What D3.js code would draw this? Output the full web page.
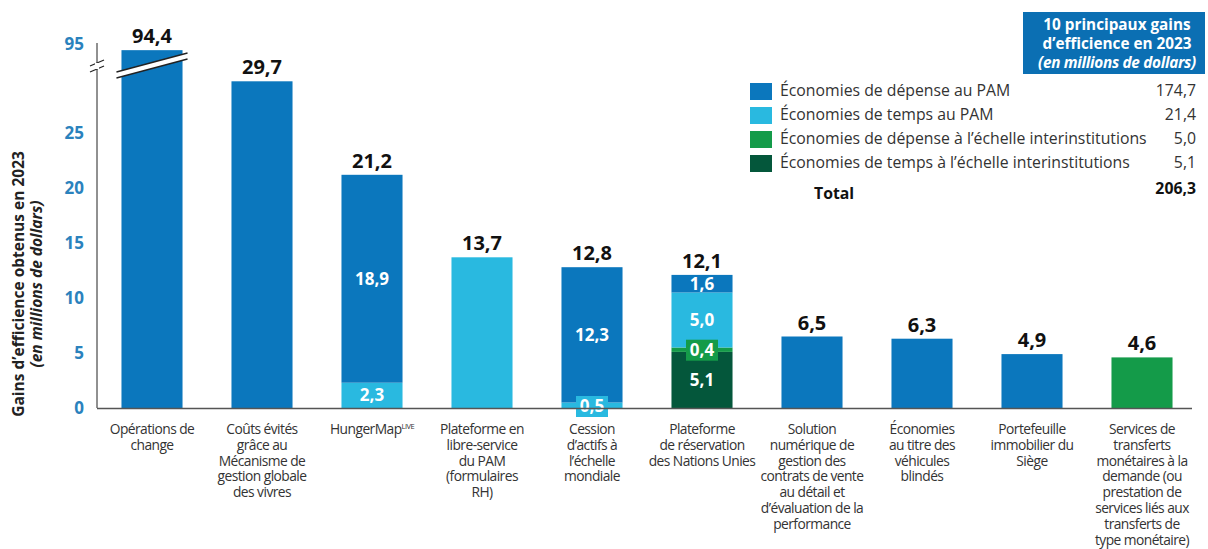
<!DOCTYPE html>
<html>
<head>
<meta charset="utf-8">
<script src="https://cdn.jsdelivr.net/npm/d3@7"></script>
<style>
  body { margin: 0; background: #fff; }
  text { font-family: "Open Sans", sans-serif; }
</style>
</head>
<body>
<div id="vis"></div>
<script>
// chart data
const categories = [
    'Opérations de change', 'Coûts évités', 'HungerMap', 'Plateforme libre-service',
    'Cession', 'Plateforme réservation', 'Solution numérique', 'Véhicules blindés',
    'Portefeuille', 'Services de transferts'
];
const categoryLines = [
    ['Opérations de', 'change'],
    ['Coûts évités', 'grâce au', 'Mécanisme de', 'gestion globale', 'des vivres'],
    ['HungerMap'],
    ['Plateforme en', 'libre-service', 'du PAM', '(formulaires', 'RH)'],
    ['Cession', 'd’actifs à', 'l’échelle', 'mondiale'],
    ['Plateforme', 'de réservation', 'des Nations Unies'],
    ['Solution', 'numérique de', 'gestion des', 'contrats de vente', 'au détail et', 'd’évaluation de la', 'performance'],
    ['Économies', 'au titre des', 'véhicules', 'blindés'],
    ['Portefeuille', 'immobilier du', 'Siège'],
    ['Services de', 'transferts', 'monétaires à la', 'demande (ou', 'prestation de', 'services liés aux', 'transferts de', 'type monétaire)']
];
const depensePAM   = [94.4, 29.7, 18.9, 0, 12.3, 1.6, 6.5, 6.3, 4.9, 0];
const tempsPAM     = [0, 0, 2.3, 13.7, 0.5, 5.0, 0, 0, 0, 0];
const depenseInter = [0, 0, 0, 0, 0, 0.4, 0, 0, 0, 4.6];
const tempsInter   = [0, 0, 0, 0, 0, 5.1, 0, 0, 0, 0];
const totals       = [94.4, 29.7, 21.2, 13.7, 12.8, 12.1, 6.5, 6.3, 4.9, 4.6];

const seriesNames = [
    'Économies de dépense au PAM',
    'Économies de temps au PAM',
    'Économies de dépense à l’échelle interinstitutions',
    'Économies de temps à l’échelle interinstitutions'
];
const seriesTotals = ['174,7', '21,4', '5,0', '5,1'];
const grandTotal = '206,3';
const yTicks = [0, 5, 10, 15, 20, 25, 95];

const colors = {
    depensePAM: '#0b77bd',
    tempsPAM: '#29b9e0',
    depenseInter: '#149b49',
    tempsInter: '#04573b'
};
const legendKeys = ['depensePAM', 'tempsPAM', 'depenseInter', 'tempsInter'];
const stackKeys = ['tempsInter', 'depenseInter', 'tempsPAM', 'depensePAM'];

const fmt = v => v.toFixed(1).replace('.', ',');

const W = 1208, H = 549;
const svg = d3.select('#vis').append('svg')
    .attr('width', W).attr('height', H);

// table for the stack
const table = categories.map((c, i) => ({
    cat: c,
    depensePAM: depensePAM[i], tempsPAM: tempsPAM[i],
    depenseInter: depenseInter[i], tempsInter: tempsInter[i]
}));
const stacked = d3.stack().keys(stackKeys)(table);

// scales (broken y axis above 31)
const x = d3.scaleBand().domain(categories).range([97, 1197]).paddingInner(0.445).paddingOuter(0.2225);
const y = d3.scaleLinear().domain([0, 31, 95]).range([408, 67, 50]);

// bars
svg.append('g').selectAll('g')
    .data(stacked)
    .join('g')
    .attr('fill', d => colors[d.key])
    .selectAll('rect')
    .data(d => d)
    .join('rect')
    .attr('x', d => x(d.data.cat))
    .attr('y', d => y(d[1]))
    .attr('width', x.bandwidth())
    .attr('height', d => y(d[0]) - y(d[1]));

// segment labels for stacked bars
const multi = categories.filter((c, i) => [depensePAM, tempsPAM, depenseInter, tempsInter].filter(s => s[i] > 0).length > 1);
stacked.forEach(layer => {
    layer.forEach(d => {
        const v = d[1] - d[0];
        if (v <= 0 || !multi.includes(d.data.cat)) return;
        const cx = x(d.data.cat) + x.bandwidth() / 2;
        let cy = y((d[0] + d[1]) / 2);
        const small = y(d[0]) - y(d[1]) < 16;
        if (small) {
            if (d[0] === 0) cy = y(0) - 2;
            svg.append('rect')
                .attr('x', cx - 16).attr('y', cy - 10)
                .attr('width', 32).attr('height', 21)
                .attr('fill', colors[layer.key]);
        }
        svg.append('text')
            .attr('x', cx).attr('y', cy + 6)
            .attr('text-anchor', 'middle')
            .attr('fill', '#fff')
            .attr('font-weight', 700)
            .attr('font-size', 17)
            .text(fmt(v));
    });
});

// totals above bars
svg.append('g').selectAll('text')
    .data(categories)
    .join('text')
    .attr('x', d => x(d) + x.bandwidth() / 2)
    .attr('y', (d, i) => y(totals[i]) - 7)
    .attr('text-anchor', 'middle')
    .attr('font-weight', 700)
    .attr('font-size', 20)
    .attr('fill', '#111')
    .text((d, i) => fmt(totals[i]));

// y axis
const yAxis = svg.append('g')
    .attr('transform', 'translate(97,0)')
    .call(d3.axisLeft(y).tickValues(yTicks).tickSize(0).tickPadding(13));
yAxis.select('.domain').attr('d', `M0,${y(95) - 7}V${y(0)}`).attr('stroke', '#222');
yAxis.selectAll('.tick text')
    .attr('font-family', '"Open Sans", sans-serif')
    .attr('font-size', 17)
    .attr('font-weight', 700)
    .attr('fill', '#2a82bd')
    .attr('dy', d => d === 95 ? '-0.05em' : '0.32em');

// break marks on axis
const yb = y(31) - 1;
[-3, 3].forEach(o => {
    svg.append('line')
        .attr('x1', 90).attr('y1', yb + o + 3)
        .attr('x2', 104).attr('y2', yb + o - 3)
        .attr('stroke', '#222').attr('stroke-width', 1.2);
});
svg.append('rect').attr('x', 95).attr('y', yb - 3).attr('width', 4).attr('height', 6).attr('fill', '#fff');

// break marks on first bar
const bx0 = x(categories[0]) - 5, bx1 = x(categories[0]) + x.bandwidth() + 5;
svg.append('path')
    .attr('d', `M${bx0},${yb + 6}L${bx1},${yb - 13}L${bx1},${yb - 7}L${bx0},${yb + 12}Z`)
    .attr('fill', '#fff');
[0, 6].forEach(o => {
    svg.append('line')
        .attr('x1', bx0).attr('y1', yb + 6 + o)
        .attr('x2', bx1).attr('y2', yb - 13 + o)
        .attr('stroke', '#222').attr('stroke-width', 1.3);
});

// baseline
svg.append('line')
    .attr('x1', 97).attr('x2', 1192)
    .attr('y1', y(0) + 0.5).attr('y2', y(0) + 0.5)
    .attr('stroke', '#555').attr('stroke-width', 1.6);

// category labels
const catG = svg.append('g');
categories.forEach((c, i) => {
    const t = catG.append('text')
        .attr('x', x(c) + x.bandwidth() / 2)
        .attr('y', 434)
        .attr('text-anchor', 'middle')
        .attr('font-size', 13.8)
        .attr('letter-spacing', -0.55)
        .attr('fill', '#333');
    categoryLines[i].forEach((line, j) => {
        t.append('tspan')
            .attr('x', x(c) + x.bandwidth() / 2)
            .attr('dy', j === 0 ? 0 : 15.8)
            .text(line);
    });
    if (c === 'HungerMap') {
        t.select('tspan').append('tspan')
            .attr('font-size', 7.5)
            .attr('baseline-shift', '60%')
            .text('LIVE');
    }
});

// y axis title
const yt = svg.append('text')
    .attr('transform', 'translate(24,284) rotate(-90)')
    .attr('text-anchor', 'middle')
    .attr('font-weight', 700)
    .attr('font-size', 15.5)
    .attr('fill', '#222');
yt.append('tspan').attr('x', 0).text('Gains d’efficience obtenus en 2023');
yt.append('tspan').attr('x', 0).attr('dy', 18).attr('font-style', 'italic').text('(en millions de dollars)');

// legend title box
svg.append('rect')
    .attr('x', 1023).attr('y', 12)
    .attr('width', 182).attr('height', 62)
    .attr('fill', '#0b6fb3');
const lt = svg.append('text')
    .attr('text-anchor', 'middle')
    .attr('fill', '#fff')
    .attr('font-weight', 700)
    .attr('font-size', 15.3);
['10 principaux gains', 'd’efficience en 2023', '(en millions de dollars)'].forEach((s, j) => {
    lt.append('tspan')
        .attr('x', 1117).attr('y', 30 + j * 19)
        .attr('font-style', j === 2 ? 'italic' : 'normal')
        .attr('letter-spacing', j === 2 ? -0.3 : 0)
        .text(s);
});

// legend rows
const legY = d3.scalePoint().domain(legendKeys).range([91, 163]);
const leg = svg.append('g').selectAll('g')
    .data(legendKeys)
    .join('g')
    .attr('transform', d => `translate(0,${legY(d)})`);
leg.append('rect')
    .attr('x', 750).attr('y', -8)
    .attr('width', 22).attr('height', 17)
    .attr('fill', d => colors[d]);
leg.append('text')
    .attr('x', 780).attr('y', 5)
    .attr('font-size', 15.8)
    .attr('fill', '#333')
    .text((d, i) => seriesNames[i]);
leg.append('text')
    .attr('x', 1196).attr('y', 5)
    .attr('text-anchor', 'end')
    .attr('font-size', 15.8)
    .attr('fill', '#333')
    .text((d, i) => seriesTotals[i]);

svg.append('text')
    .attr('x', 814).attr('y', 199)
    .attr('font-size', 15.8).attr('font-weight', 700).attr('fill', '#111')
    .text('Total');
svg.append('text')
    .attr('x', 1196).attr('y', 194)
    .attr('text-anchor', 'end')
    .attr('font-size', 15.8).attr('font-weight', 700).attr('fill', '#111')
    .text(grandTotal);
</script>
</body>
</html>
